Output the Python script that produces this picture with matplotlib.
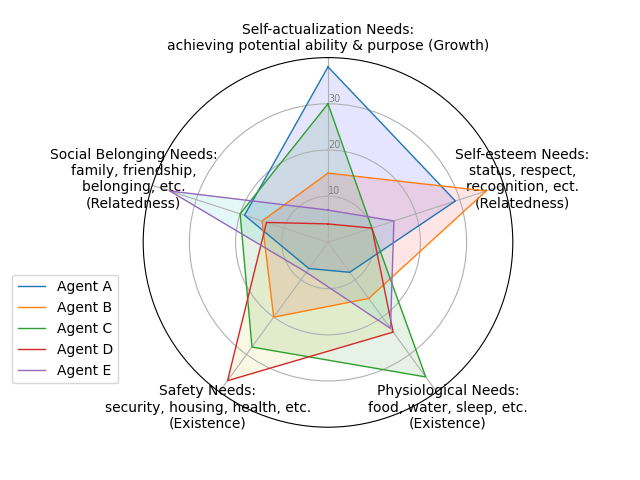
import numpy as np
import matplotlib
matplotlib.use('Agg')
import matplotlib.pyplot as plt
from math import pi

categories = ['Self-actualization Needs:\nachieving potential ability & purpose (Growth)',
              'Self-esteem Needs:\nstatus, respect,\nrecognition, ect.\n(Relatedness)',
              'Physiological Needs:\nfood, water, sleep, etc.\n(Existence)',
              'Safety Needs:\nsecurity, housing, health, etc.\n(Existence)',
              'Social Belonging Needs:\nfamily, friendship,\nbelonging, etc.\n(Relatedness)']

agent_a = [38, 29, 8, 7, 19]
agent_b = [15, 36, 15, 20, 15]
agent_c = [30, 10, 36, 28, 20]
agent_d = [4, 10, 24, 37, 14]
agent_e = [7, 15, 23, 8, 36]

agents = ['Agent A', 'Agent B', 'Agent C', 'Agent D', 'Agent E']
fill_colors = ['b', 'r', 'g', 'y', 'c']

N = len(categories)
angles = [n / float(N) * 2 * pi for n in range(N)]
angles += angles[:1]

fig = plt.figure(figsize=(6.4, 4.8), dpi=100)
ax = plt.subplot(111, polar=True)
ax.set_theta_offset(pi / 2)
ax.set_theta_direction(-1)

plt.xticks(angles[:-1], categories)
ax.set_rlabel_position(0)
plt.yticks([10, 20, 30], ["10", "20", "30"], color="grey", size=7)
plt.ylim(0, 40)

for name, vals, fc in zip(agents, [agent_a, agent_b, agent_c, agent_d, agent_e], fill_colors):
    v = vals + vals[:1]
    ax.plot(angles, v, linewidth=1, linestyle='solid', label=name)
    ax.fill(angles, v, fc, alpha=0.1)

ax.legend(loc='upper right', bbox_to_anchor=(0.185, 0.428),
          bbox_transform=fig.transFigure, borderaxespad=0)

plt.savefig('out.png')
